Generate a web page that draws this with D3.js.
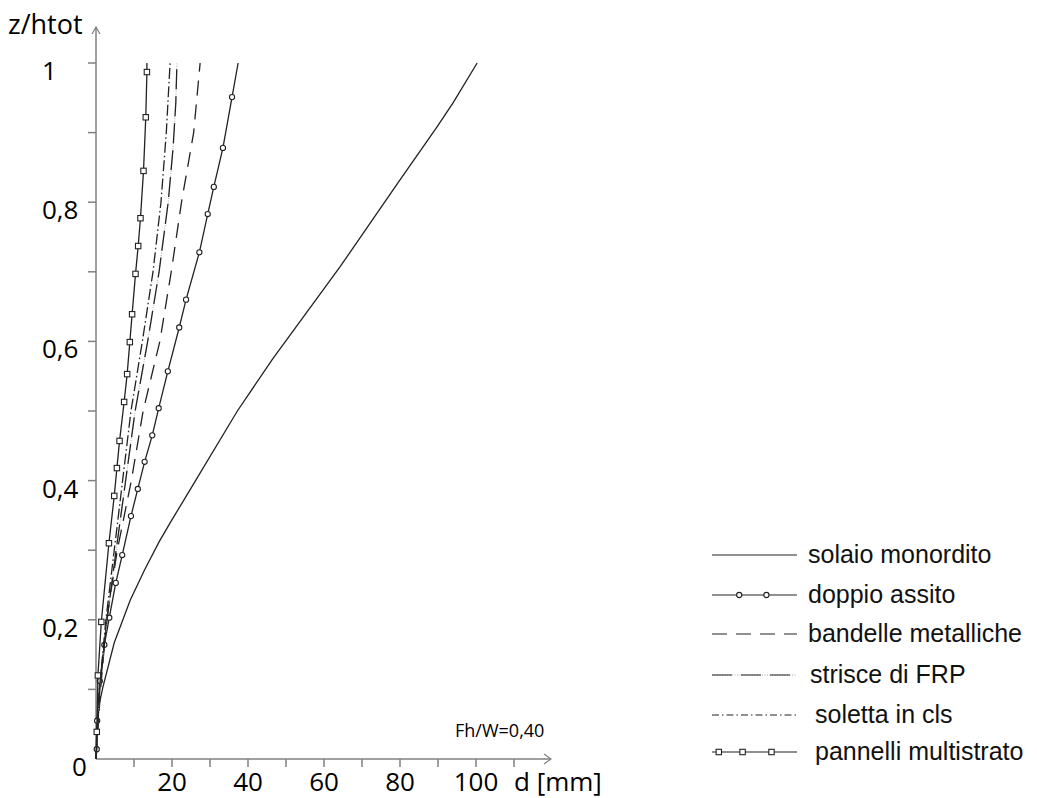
<!DOCTYPE html>
<html>
<head>
<meta charset="utf-8">
<script src="https://cdn.jsdelivr.net/npm/d3@7"></script>
<style>
  body { margin: 0; background: #fff; }
  svg { display: block; }
</style>
</head>
<body>
<div id="chart"></div>
<script>
// z/htot levels and displacement d [mm]
const solaioZ = [0, 0.035, 0.07, 0.103, 0.167, 0.228, 0.272, 0.312, 0.341, 0.4, 0.5, 0.575, 0.707, 0.828, 0.908, 0.943, 1];
const solaioD = [0, 0.2, 0.5, 1.8, 4.8, 9.0, 12.8, 16.6, 19.7, 26.2, 37.2, 46.5, 64.2, 79.5, 89.7, 94, 100.3];

const doppioZ = [0, 0.014, 0.055, 0.112, 0.164, 0.203, 0.253, 0.293, 0.349, 0.388, 0.427, 0.465, 0.504, 0.557, 0.62, 0.66, 0.728, 0.783, 0.822, 0.878, 0.951, 1];
const doppioD = [0, 0.2, 0.3, 1.0, 2.2, 3.5, 5.2, 6.9, 9.2, 11.0, 12.8, 14.8, 16.5, 18.9, 21.9, 23.7, 27.2, 29.4, 31.0, 33.4, 35.8, 37.4];

const bandelleZ = [0, 0.1, 0.2, 0.3, 0.4, 0.5, 0.6, 0.7, 0.8, 0.9, 1];
const bandelleD = [0, 1.2, 2.8, 5.6, 9.3, 12.4, 16.8, 19.8, 22.5, 25.7, 27.4];

const strisceZ = [0, 0.1, 0.2, 0.3, 0.4, 0.5, 0.6, 0.7, 0.8, 0.879, 0.943, 1];
const strisceD = [0, 1.0, 2.9, 5.3, 7.8, 10.3, 13.6, 16.6, 19.0, 20.3, 21.0, 21.3];

const solettaZ = [0, 0.1, 0.2, 0.3, 0.4, 0.5, 0.6, 0.7, 0.8, 0.9, 1];
const solettaD = [0, 0.9, 2.6, 4.8, 7.0, 9.2, 12.2, 15.0, 17.1, 18.5, 19.5];

const pannelliZ = [0, 0.039, 0.12, 0.197, 0.31, 0.378, 0.418, 0.457, 0.513, 0.553, 0.599, 0.639, 0.697, 0.737, 0.777, 0.845, 0.922, 0.987, 1];
const pannelliD = [0, 0.2, 0.5, 1.4, 3.4, 4.8, 5.5, 6.2, 7.4, 8.2, 8.9, 9.5, 10.4, 11.1, 11.7, 12.5, 13.1, 13.4, 13.4];

const seriesNames = ['solaio monordito', 'doppio assito', 'bandelle metalliche', 'strisce di FRP', 'soletta in cls', 'pannelli multistrato'];
const xTickValues = [10, 20, 30, 40, 50, 60, 70, 80, 90, 100, 110];
const xTickLabels = ['20', '40', '60', '80', '100'];
const yTickValues = [0.1, 0.2, 0.3, 0.4, 0.5, 0.6, 0.7, 0.8, 0.9, 1];
const yTickLabels = ['0', '0,2', '0,4', '0,6', '0,8', '1'];
const note = 'Fh/W=0,40';

const W = 1037, H = 798;
const ink = '#222';
const axisColor = '#808080';

const svg = d3.select('#chart').append('svg')
  .attr('width', W)
  .attr('height', H);

const x = d3.scaleLinear().domain([0, 100]).range([96, 476]);
const y = d3.scaleLinear().domain([0, 1]).range([759, 63]);

// axes
const axisG = svg.append('g').attr('stroke', axisColor).attr('stroke-width', 1.5).attr('fill', 'none');
axisG.append('line').attr('x1', x(0)).attr('x2', 551).attr('y1', y(0)).attr('y2', y(0));
axisG.append('line').attr('x1', x(0)).attr('x2', x(0)).attr('y1', y(0)).attr('y2', 27);
// open arrowheads
axisG.append('path').attr('d', `M${551 - 7},${y(0) - 5} L551,${y(0)} L${551 - 7},${y(0) + 5}`).attr('stroke-width', 1.2);
axisG.append('path').attr('d', `M${x(0) - 4},34 L${x(0)},27 L${x(0) + 4},34`).attr('stroke-width', 1.2);

axisG.selectAll('.xt').data(xTickValues).join('line')
  .attr('x1', d => x(d)).attr('x2', d => x(d))
  .attr('y1', y(0)).attr('y2', y(0) + 8);
axisG.selectAll('.yt').data(yTickValues).join('line')
  .attr('x1', x(0) - 8).attr('x2', x(0))
  .attr('y1', d => y(d)).attr('y2', d => y(d));

const labelFont = "'Open Sans', sans-serif";
svg.selectAll('.xl').data(xTickLabels).join('text')
  .attr('x', d => x(+d))
  .attr('y', 791)
  .attr('text-anchor', 'middle')
  .attr('font-family', labelFont).attr('font-size', 26)
  .text(d => d);

svg.selectAll('.yl').data(yTickLabels).join('text')
  .attr('x', d => d === '0' ? 72 : 42)
  .attr('y', d => y(+d.replace(',', '.')) + 17)
  .attr('font-family', labelFont).attr('font-size', 26)
  .text(d => d);

svg.append('text').attr('x', 8).attr('y', 34)
  .attr('font-family', labelFont).attr('font-size', 27)
  .text('z/htot');
svg.append('text').attr('x', 514).attr('y', 791)
  .attr('font-family', labelFont).attr('font-size', 26)
  .text('d [mm]');
svg.append('text').attr('x', 455).attr('y', 737)
  .attr('font-family', labelFont).attr('font-size', 18)
  .text(note);

// series
const zip = (zs, ds) => zs.map((z, i) => ({ z: z, d: ds[i] }));
const line = d3.line().x(p => x(p.d)).y(p => y(p.z));

const styles = [
  { data: zip(solaioZ, solaioD), dash: null, marker: null },
  { data: zip(doppioZ, doppioD), dash: null, marker: 'circle' },
  { data: zip(bandelleZ, bandelleD), dash: '15,9', marker: null },
  { data: zip(strisceZ, strisceD), dash: '20,7', marker: null, dotted: true },
  { data: zip(solettaZ, solettaD), dash: '11,3,1.5,3', marker: null },
  { data: zip(pannelliZ, pannelliD), dash: null, marker: 'square' }
];

function drawMarker(g, kind, cx, cy) {
  if (kind === 'circle') {
    g.append('circle').attr('cx', cx).attr('cy', cy).attr('r', 2.6)
      .attr('fill', '#fff').attr('stroke', ink).attr('stroke-width', 1.1);
  } else if (kind === 'square') {
    g.append('rect').attr('x', cx - 2.7).attr('y', cy - 2.7).attr('width', 5.4).attr('height', 5.4)
      .attr('fill', '#fff').attr('stroke', ink).attr('stroke-width', 1.1);
  }
}

const plot = svg.append('g');
styles.forEach(s => {
  if (s.dotted) {
    plot.append('path').datum(s.data).attr('d', line)
      .attr('fill', 'none').attr('stroke', '#aaa').attr('stroke-width', 1)
      .attr('stroke-dasharray', '1,1.5');
  }
  plot.append('path').datum(s.data).attr('d', line)
    .attr('fill', 'none').attr('stroke', ink).attr('stroke-width', 1.3)
    .attr('stroke-dasharray', s.dash);
  if (s.marker) {
    s.data.slice(1, -1).forEach(p => drawMarker(plot, s.marker, x(p.d), y(p.z)));
  }
});

// legend
const legendY = [555, 595, 634, 675, 715, 752];
const legendTextX = [808, 808, 808, 810, 815, 815];
const legendMarks = [[], [0.32, 0.64], [], [], [], [0.08, 0.36, 0.7]];
const leg = svg.append('g');
styles.forEach((s, i) => {
  const yy = legendY[i];
  if (s.dotted) {
    leg.append('line').attr('x1', 712).attr('x2', 797).attr('y1', yy).attr('y2', yy)
      .attr('stroke', '#aaa').attr('stroke-width', 1).attr('stroke-dasharray', '1,1.5');
  }
  leg.append('line').attr('x1', 712).attr('x2', 797).attr('y1', yy).attr('y2', yy)
    .attr('stroke', ink).attr('stroke-width', 1.2)
    .attr('stroke-dasharray', s.dotted ? '20,9' : (s.dash === '11,3,1.5,3' ? '7,3,1.5,3' : s.dash));
  legendMarks[i].forEach(f => drawMarker(leg, s.marker, 712 + f * 85, yy));
  leg.append('text').attr('x', legendTextX[i]).attr('y', yy + 8)
    .attr('font-family', "'Liberation Sans', Arial, sans-serif").attr('font-size', 25)
    .attr('fill', '#111')
    .text(seriesNames[i]);
});
</script>
</body>
</html>
